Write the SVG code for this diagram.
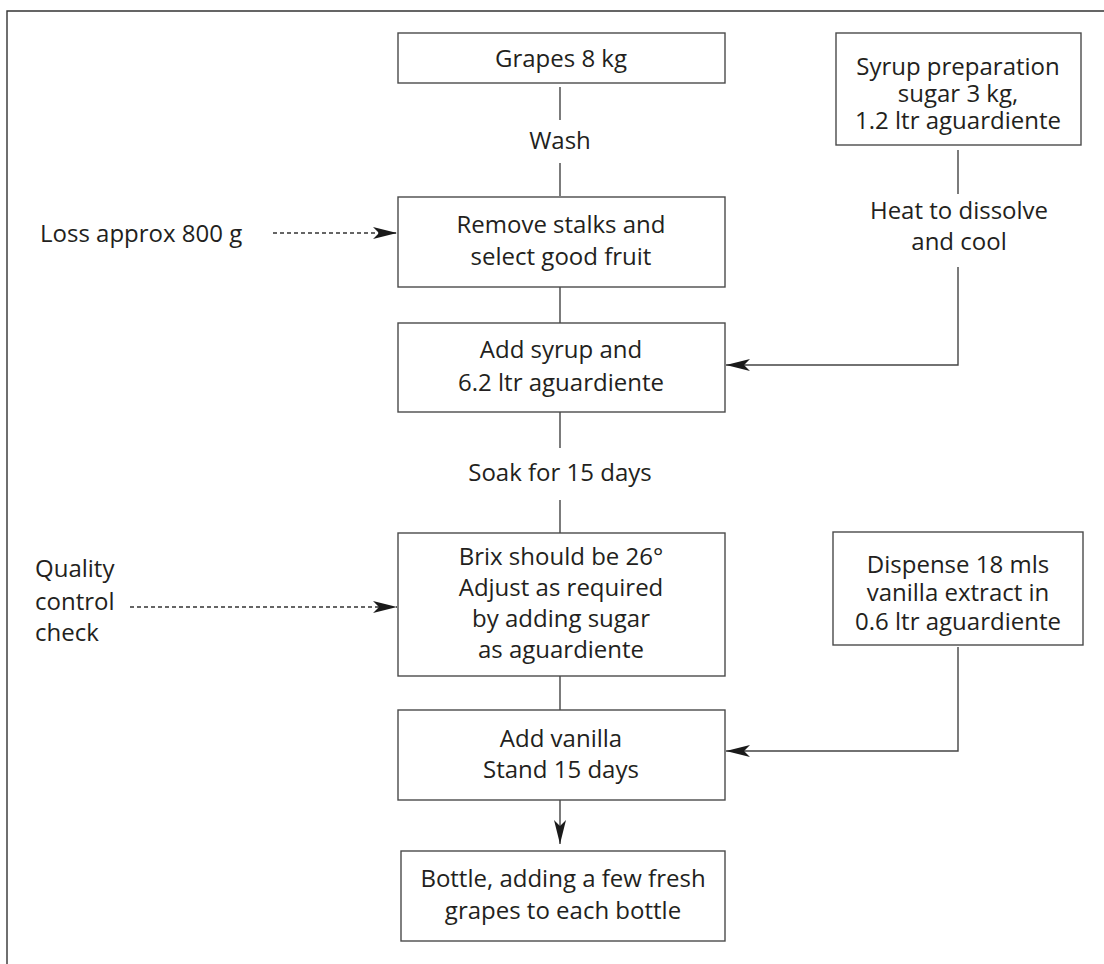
<svg xmlns="http://www.w3.org/2000/svg" width="1104" height="964" viewBox="0 0 1104 964">
<style>
.bg{fill:#ffffff}
.frame{fill:none;stroke:#333333;stroke-width:1.4}
.box{fill:#ffffff;stroke:#4a4a4a;stroke-width:1.4}
.ln{fill:none;stroke:#444444;stroke-width:1.4}
.dash{fill:none;stroke:#333333;stroke-width:1.3;stroke-dasharray:4 3}
text{font-family:"Open Sans","Noto Sans","DejaVu Sans",sans-serif;font-size:24px;fill:#231f20}
.c{text-anchor:middle}
</style>
<defs>
<marker id="arr" viewBox="0 0 24 12" refX="24" refY="6" markerWidth="24" markerHeight="12" markerUnits="userSpaceOnUse" orient="auto">
<path d="M0,0 L24,6 L0,12 L6,6 Z" fill="#1a1a1a"/>
</marker>
</defs>
<rect class="bg" x="0" y="0" width="1104" height="964"/>
<path class="frame" d="M7,964 V11 H1104"/>

<g id="connectors">
<line class="ln" x1="560" y1="87" x2="560" y2="120"/>
<line class="ln" x1="560" y1="163" x2="560" y2="196"/>
<line class="ln" x1="560" y1="287" x2="560" y2="323"/>
<line class="ln" x1="560" y1="412" x2="560" y2="448"/>
<line class="ln" x1="560" y1="500" x2="560" y2="533"/>
<line class="ln" x1="560" y1="676" x2="560" y2="710"/>
<line class="ln" x1="560" y1="800" x2="560" y2="844" marker-end="url(#arr)"/>
<line class="ln" x1="958" y1="150" x2="958" y2="194"/>
<path class="ln" d="M958,267 V365 H726" marker-end="url(#arr)"/>
<path class="ln" d="M958,647 V751 H726" marker-end="url(#arr)"/>
<line class="dash" x1="273" y1="233" x2="397" y2="233" marker-end="url(#arr)"/>
<line class="dash" x1="130" y1="607" x2="397" y2="607" marker-end="url(#arr)"/>
<text class="c" x="560" y="149">Wash</text>
<text class="c" x="560" y="481">Soak for 15 days</text>
<text class="c" x="959" y="219">Heat to dissolve</text>
<text class="c" x="959" y="250">and cool</text>
<text x="40" y="242">Loss approx 800 g</text>
<text x="35" y="577">Quality</text>
<text x="35" y="610">control</text>
<text x="35" y="641">check</text>
</g>

<g id="grapes">
<rect class="box" x="398" y="33" width="327" height="50"/>
<text class="c" x="561" y="67">Grapes 8 kg</text>
</g>
<g id="syrup">
<rect class="box" x="836" y="33" width="245" height="112"/>
<text class="c" x="958" y="75">Syrup preparation</text>
<text class="c" x="958" y="102">sugar 3 kg,</text>
<text class="c" x="958" y="129">1.2 ltr aguardiente</text>
</g>
<g id="remove">
<rect class="box" x="398" y="197" width="327" height="90"/>
<text class="c" x="561" y="233">Remove stalks and</text>
<text class="c" x="561" y="265">select good fruit</text>
</g>
<g id="addsyrup">
<rect class="box" x="398" y="323" width="327" height="89"/>
<text class="c" x="561" y="358">Add syrup and</text>
<text class="c" x="561" y="391">6.2 ltr aguardiente</text>
</g>
<g id="brix">
<rect class="box" x="398" y="533" width="327" height="143"/>
<text class="c" x="561" y="565">Brix should be 26°</text>
<text class="c" x="561" y="596">Adjust as required</text>
<text class="c" x="561" y="627">by adding sugar</text>
<text class="c" x="561" y="658">as aguardiente</text>
</g>
<g id="dispense">
<rect class="box" x="833" y="532" width="250" height="113"/>
<text class="c" x="958" y="573">Dispense 18 mls</text>
<text class="c" x="958" y="601">vanilla extract in</text>
<text class="c" x="958" y="630">0.6 ltr aguardiente</text>
</g>
<g id="addvanilla">
<rect class="box" x="398" y="710" width="327" height="90"/>
<text class="c" x="561" y="747">Add vanilla</text>
<text class="c" x="561" y="778">Stand 15 days</text>
</g>
<g id="bottle">
<rect class="box" x="401" y="851" width="324" height="90"/>
<text class="c" x="563" y="887">Bottle, adding a few fresh</text>
<text class="c" x="563" y="919">grapes to each bottle</text>
</g>
</svg>
